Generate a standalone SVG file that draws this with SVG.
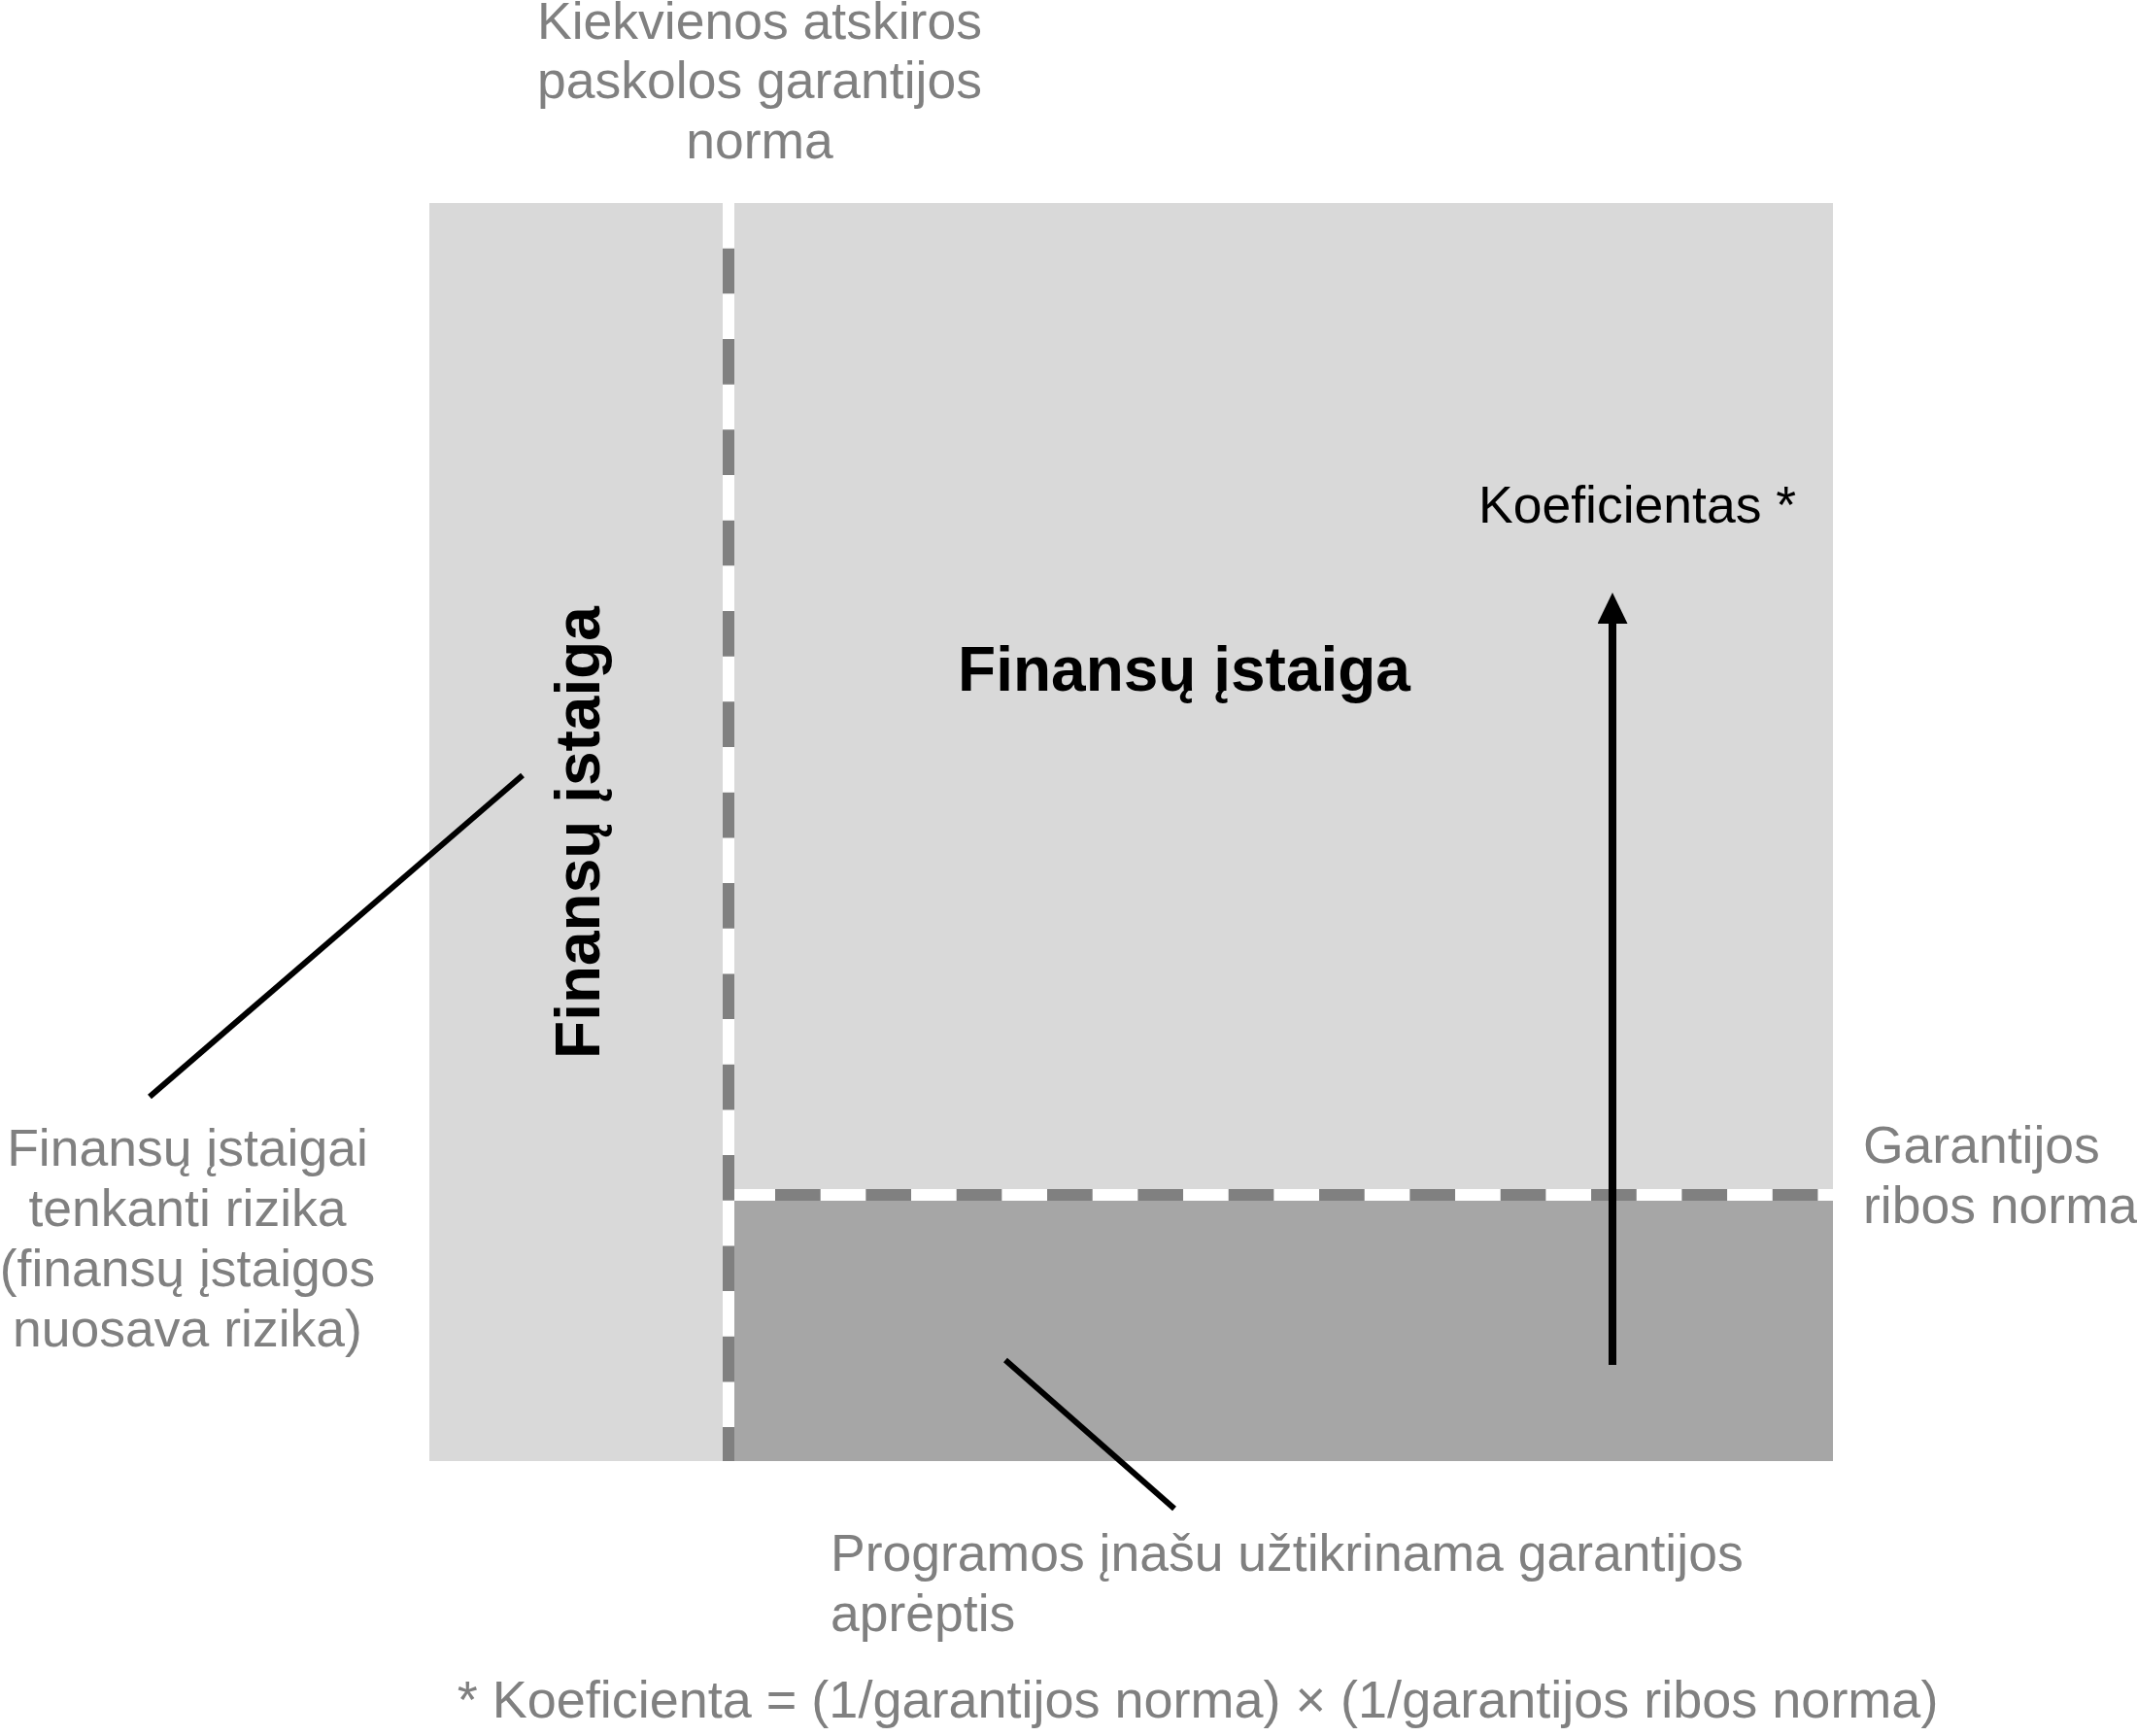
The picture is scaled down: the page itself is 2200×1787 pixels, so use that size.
<svg xmlns="http://www.w3.org/2000/svg" width="2200" height="1787" viewBox="0 0 2200 1787">
<style>
  text { font-family: "Liberation Sans", Arial, sans-serif; }
  .lbl { font-size: 53.5px; fill: #808080; }
  .blk { font-size: 53.5px; fill: #000000; }
  .bold { font-size: 64px; font-weight: bold; fill: #000000; }
  .dash { stroke: #808080; stroke-width: 12; stroke-dasharray: 46.67 46.67; fill: none; }
  .gap { stroke: #ffffff; stroke-width: 12; fill: none; }
  .conn { stroke: #000000; stroke-width: 6; fill: none; }
</style>
<defs>
  <marker id="arrowhead" markerUnits="userSpaceOnUse" markerWidth="32" markerHeight="31" refX="0" refY="15.5" orient="auto" viewBox="0 0 32 31">
    <path d="M0,0 L32,15.5 L0,31 Z" fill="#000000"/>
  </marker>
</defs>
<rect width="2200" height="1787" fill="#ffffff"/>

<g id="left-zone">
  <rect x="442" y="209" width="302" height="1295" fill="#d9d9d9"/>
  <text class="bold" transform="translate(617,857) rotate(-90)" text-anchor="middle">Finansų įstaiga</text>
</g>

<g id="upper-zone">
  <rect x="756" y="209" width="1131" height="1015" fill="#d9d9d9"/>
  <text class="bold" x="1219" y="711" text-anchor="middle">Finansų įstaiga</text>
</g>

<g id="lower-zone">
  <rect x="756" y="1236" width="1131" height="268" fill="#a6a6a6"/>
</g>

<g id="boundaries">
  <line class="gap" x1="750" y1="209" x2="750" y2="1504"/>
  <line class="dash" x1="750" y1="209" x2="750" y2="1504" stroke-dashoffset="46.67"/>
  <line class="gap" x1="756" y1="1230" x2="1887" y2="1230"/>
  <line class="dash" x1="756" y1="1230" x2="1887" y2="1230" stroke-dashoffset="51.33"/>
</g>

<g id="label-top">
  <text class="lbl" x="782" y="40" text-anchor="middle">Kiekvienos atskiros</text>
  <text class="lbl" x="782" y="101" text-anchor="middle">paskolos garantijos</text>
  <text class="lbl" x="782" y="163" text-anchor="middle">norma</text>
</g>

<g id="label-left">
  <text class="lbl" x="193" y="1200" text-anchor="middle">Finansų įstaigai</text>
  <text class="lbl" x="193" y="1262" text-anchor="middle">tenkanti rizika</text>
  <text class="lbl" x="193" y="1324" text-anchor="middle">(finansų įstaigos</text>
  <text class="lbl" x="193" y="1386" text-anchor="middle">nuosava rizika)</text>
</g>

<g id="label-right">
  <text class="lbl" x="1918" y="1197">Garantijos</text>
  <text class="lbl" x="1918" y="1259">ribos norma</text>
</g>

<g id="label-koef">
  <text class="blk" x="1522" y="538">Koeficientas *</text>
</g>

<g id="label-bottom">
  <text class="lbl" x="855" y="1617">Programos įnašu užtikrinama garantijos</text>
  <text class="lbl" x="855" y="1679">aprėptis</text>
</g>

<g id="footnote">
  <text class="lbl" x="1233" y="1768" text-anchor="middle" style="font-size:54px">* Koeficienta = (1/garantijos norma) × (1/garantijos ribos norma)</text>
</g>

<g id="connectors">
  <line class="conn" x1="538" y1="798" x2="154" y2="1129"/>
  <line class="conn" x1="1035" y1="1400" x2="1209" y2="1553"/>
  <line x1="1660" y1="1405" x2="1660" y2="642" stroke="#000000" stroke-width="8" marker-end="url(#arrowhead)"/>
</g>
</svg>
